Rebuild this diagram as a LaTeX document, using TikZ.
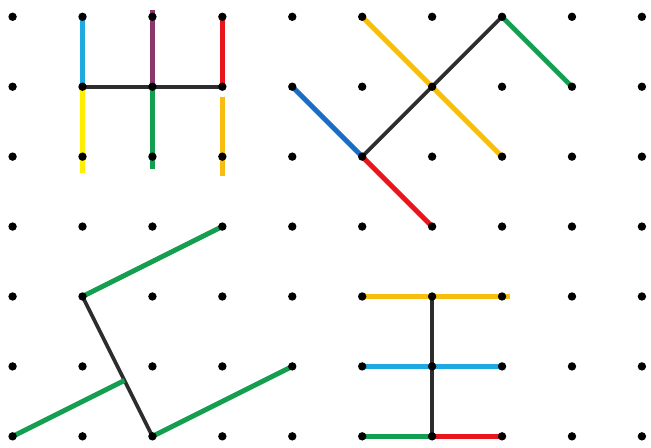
\documentclass[tikz,border=0pt]{standalone}
\usetikzlibrary{calc,backgrounds}
\definecolor{sky}{RGB}{30,170,225}
\definecolor{ocean}{RGB}{25,110,195}
\definecolor{plum}{RGB}{140,55,105}
\definecolor{cherry}{RGB}{232,22,28}
\definecolor{lemon}{RGB}{255,238,0}
\definecolor{leaf}{RGB}{20,158,80}
\definecolor{amber}{RGB}{248,190,15}
\definecolor{ink}{RGB}{45,45,45}
\tikzset{
  pin/.style={circle,fill=black,inner sep=0pt,minimum size=1.2mm},
  seg/.style={line width=2pt,draw=#1},
  seg/.default=leaf,
  rod/.style={line width=1.5pt,draw=ink},
}

\begin{document}
\begin{tikzpicture}
  \useasboundingbox (-0.18,-6.16) rectangle (9.13,0.24);
  % peg board
  \foreach \x in {0,...,9}
    \foreach \y in {0,...,6}
      \node[pin] (p-\x-\y) at (\x,-\y) {};
  \coordinate (cut) at ($(p-1-4.center)!0.6!(p-2-6.center)$);
  \begin{scope}[on background layer]
    % black sticks
    \foreach \a/\b in {1-1/3-1, 5-2/7-0, 1-4/2-6, 6-4/6-6}
      \draw[rod] (p-\a.center) -- (p-\b.center);
    % coloured sticks
    \foreach \a/\b/\c in {
      1-1/1-0/sky, 3-1/3-0/cherry,
      5-2/4-1/ocean, 5-2/6-3/cherry, 7-0/8-1/leaf, 5-0/7-2/amber,
      1-4/3-3/leaf, 2-6/4-5/leaf,
      5-5/7-5/sky, 5-6/6-6/leaf, 6-6/7-6/cherry}
      \draw[seg=\c] (p-\a.center) -- (p-\b.center);
    \draw[seg=plum,shorten >=-1mm] (p-2-1.center) -- (p-2-0.center);
    \draw[seg=lemon,shorten >=-2.3mm] (p-1-1.center) -- (p-1-2.center);
    \draw[seg=leaf,shorten >=-1.8mm] (p-2-1.center) -- (p-2-2.center);
    \draw[seg=amber,shorten <=1.4mm,shorten >=-2.7mm] (p-3-1.center) -- (p-3-2.center);
    \draw[seg] (p-0-6.center) -- (cut);
    \draw[seg=amber,yshift=0.6mm,shorten >=-1.1mm] (p-5-4.center) -- (p-7-4.center);
  \end{scope}
\end{tikzpicture}
\end{document}
